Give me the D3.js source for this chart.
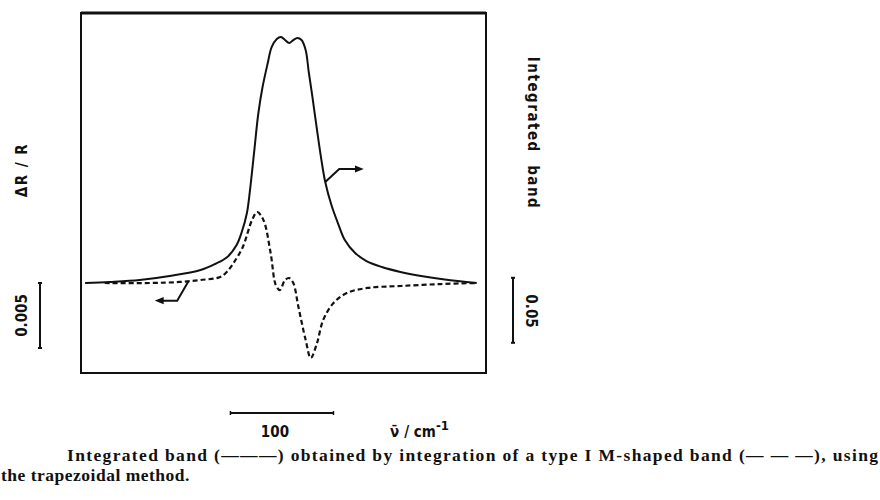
<!DOCTYPE html>
<html>
<head>
<meta charset="utf-8">
<script src="https://cdn.jsdelivr.net/npm/d3@7"></script>
<style>
  body { margin: 0; background: #fff; }
  .lab { font-family: "DejaVu Sans Condensed", "DejaVu Sans", sans-serif; font-weight: bold; font-size: 15px; fill: #111; }
  .cap { font-family: "Liberation Serif", serif; font-weight: bold; font-size: 17.5px; fill: #111; }
</style>
</head>
<body>
<div id="chart"></div>
<script>
// wavenumber offsets (cm-1) from band centre
const solidX = [-198, -174, -145, -116, -86, -72, -60, -51, -46, -41, -38, -34, -30, -26, -21, -17, -12, -8, -4, 0, 4, 8, 12, 16, 19, 23, 27, 31, 35, 41, 48, 54, 64, 75, 90, 108, 128, 151, 182];
// integrated band
const solidY = [0, 0.0008, 0.0023, 0.0054, 0.0100, 0.0146, 0.0200, 0.0292, 0.0392, 0.0538, 0.0715, 0.1007, 0.1300, 0.1500, 0.1684, 0.1815, 0.1877, 0.1892, 0.1869, 0.1846, 0.1869, 0.1885, 0.1869, 0.1792, 0.1623, 0.1407, 0.1177, 0.0961, 0.0777, 0.0600, 0.0446, 0.0331, 0.0231, 0.0169, 0.0123, 0.0085, 0.0054, 0.0027, 0];

// M-shaped band, dR/R
const dashX = [-179, -135, -106, -86, -67, -60, -54, -45, -36, -31, -25, -18, -13, -9, -4, 0, 4, 9, 16, 21, 27, 33, 43, 56, 76, 108, 147, 182];
const dashY = [0, 0, 0.00008, 0.00023, 0.00046, 0.0009, 0.00154, 0.00277, 0.00485, 0.00546, 0.00485, 0.00231, -0.00015, -0.00054, 0.00023, 0.00038, 0.0, -0.00185, -0.00438, -0.00577, -0.00462, -0.00285, -0.00154, -0.00077, -0.00038, -0.00023, -0.00008, 0];

const svg = d3.select("#chart")
  .append("svg")
    .attr("width", 880)
    .attr("height", 500)

const x = d3.scaleLinear().domain([-202, 191]).range([81, 486])
const yL = d3.scaleLinear().domain([-0.006923, 0.020769]).range([373, 13])
const yR = d3.scaleLinear().domain([-0.06923, 0.20769]).range([373, 13])

// frame
svg.append("rect")
  .attr("x", 81).attr("y", 13).attr("width", 405).attr("height", 360)
  .attr("fill", "none").attr("stroke", "#111").attr("stroke-width", 2)
svg.append("line")
  .attr("x1", 81).attr("x2", 486).attr("y1", 13).attr("y2", 13)
  .attr("stroke", "#111").attr("stroke-width", 3)

const line = d3.line().curve(d3.curveCatmullRom.alpha(0.5))

// integrated band (solid)
svg.append("path")
  .attr("d", line(solidX.map((v, i) => [x(v), yR(solidY[i])])))
  .attr("fill", "none").attr("stroke", "#111").attr("stroke-width", 2)

// M-shaped band (dashed)
svg.append("path")
  .attr("d", line(dashX.map((v, i) => [x(v), yL(dashY[i])])))
  .attr("fill", "none").attr("stroke", "#111").attr("stroke-width", 2.2)
  .attr("stroke-dasharray", "5,3")

// arrow heads
const defs = svg.append("defs")
defs.append("marker")
  .attr("id", "head").attr("viewBox", "0 0 10 10")
  .attr("refX", 5).attr("refY", 5)
  .attr("markerWidth", 9).attr("markerHeight", 9)
  .attr("markerUnits", "userSpaceOnUse")
  .attr("orient", "auto")
  .append("path").attr("d", "M0,1 L10,5 L0,9 Z").attr("fill", "#111")

// arrow from solid curve pointing right (to right axis)
const ra = [x(35), yR(0.0777)]
svg.append("path")
  .attr("d", `M${ra[0]},${ra[1]} L${ra[0] + 14},${ra[1] - 13} L${ra[0] + 34},${ra[1] - 13}`)
  .attr("fill", "none").attr("stroke", "#111").attr("stroke-width", 2)
  .attr("marker-end", "url(#head)")

// arrow from dashed curve pointing left (to left axis)
const la = [x(-98), yL(0.0001)]
svg.append("path")
  .attr("d", `M${la[0]},${la[1]} L${la[0] - 11},${la[1] + 19} L${la[0] - 29},${la[1] + 19}`)
  .attr("fill", "none").attr("stroke", "#111").attr("stroke-width", 2)
  .attr("marker-end", "url(#head)")

// scale bars
function vbar(xp, y1, y2) {
  svg.append("line").attr("x1", xp).attr("x2", xp).attr("y1", y1).attr("y2", y2)
    .attr("stroke", "#111").attr("stroke-width", 2)
  ;[y1, y2].forEach(yy => svg.append("line")
    .attr("x1", xp - 2).attr("x2", xp + 2).attr("y1", yy).attr("y2", yy)
    .attr("stroke", "#111").attr("stroke-width", 2))
}
vbar(40, yL(0), yL(-0.005))
vbar(513, yR(0.004), yR(0.004 - 0.05))

const hx1 = x(-57), hx2 = x(-57 + 100), hy = 413
svg.append("line").attr("x1", hx1).attr("x2", hx2).attr("y1", hy).attr("y2", hy)
  .attr("stroke", "#111").attr("stroke-width", 1.8)
;[hx1, hx2].forEach(xx => svg.append("line")
  .attr("x1", xx).attr("x2", xx).attr("y1", hy - 2).attr("y2", hy + 2)
  .attr("stroke", "#111").attr("stroke-width", 1.5))

// labels
svg.append("text").attr("class", "lab")
  .attr("transform", "translate(27,170) rotate(-90)")
  .attr("text-anchor", "middle").attr("letter-spacing", 1.5).text("ΔR / R")
svg.append("text").attr("class", "lab")
  .attr("transform", `translate(27,${(yL(0) + yL(-0.005)) / 2}) rotate(-90)`)
  .attr("text-anchor", "middle").text("0.005")
svg.append("text").attr("class", "lab")
  .attr("transform", "translate(528,133) rotate(90)")
  .attr("text-anchor", "middle").attr("xml:space", "preserve").attr("letter-spacing", 1.5)
  .text("Integrated  band")
svg.append("text").attr("class", "lab")
  .attr("transform", "translate(526,311) rotate(90)")
  .attr("text-anchor", "middle").text("0.05")

svg.append("text").attr("class", "lab")
  .attr("x", (hx1 + hx2) / 2 - 7).attr("y", 437)
  .attr("text-anchor", "middle").text("100")

const nu = svg.append("text").attr("class", "lab").attr("x", 390).attr("y", 437).attr("font-size", 16)
nu.append("tspan").text("ν̄")
nu.append("tspan").attr("dx", 5).text("/ cm")
nu.append("tspan").attr("dy", -7).attr("font-size", 13).text("-1")

// caption
svg.append("text").attr("class", "cap")
  .attr("x", 67).attr("y", 461)
  .attr("textLength", 811).attr("lengthAdjust", "spacing")
  .text("Integrated band (\u2014\u2014\u2014) obtained by integration of a type I M-shaped band (\u2014 \u2014 \u2014), using")
svg.append("text").attr("class", "cap")
  .attr("x", 1).attr("y", 481).attr("letter-spacing", 0.5)
  .text("the trapezoidal method.")
</script>
</body>
</html>
